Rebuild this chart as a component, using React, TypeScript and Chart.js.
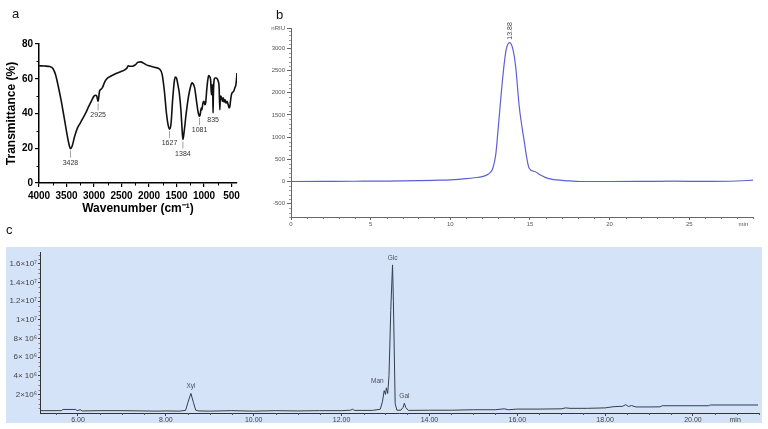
import React, { useEffect, useRef } from 'react';
import { Chart, registerables } from 'chart.js';

Chart.register(...registerables);

const FONT = '"Liberation Sans", Arial, sans-serif';

// ---------- Panel a : FT-IR spectrum ----------
const irWavenumber = [4000, 3900, 3800, 3750, 3700, 3650, 3600, 3550, 3500, 3460, 3428, 3400, 3350, 3300, 3250, 3200, 3150, 3100, 3050, 3000, 2970, 2950, 2935, 2925, 2915, 2900, 2870, 2850, 2800, 2750, 2700, 2600, 2500, 2450, 2400, 2380, 2350, 2300, 2250, 2200, 2150, 2100, 2050, 2000, 1900, 1800, 1760, 1720, 1680, 1650, 1627, 1600, 1570, 1540, 1520, 1500, 1470, 1450, 1420, 1400, 1384, 1360, 1330, 1300, 1270, 1240, 1220, 1200, 1170, 1140, 1110, 1090, 1081, 1070, 1050, 1040, 1020, 1000, 985, 970, 950, 930, 915, 900, 880, 865, 850, 840, 835, 830, 815, 800, 780, 760, 740, 725, 712, 705, 695, 680, 665, 650, 635, 620, 600, 580, 560, 545, 530, 515, 500, 480, 460, 440, 420, 410, 400];
const irTransmittance = [67.5, 67.3, 67, 66, 62.4, 55.7, 48, 39, 29.7, 23, 19.8, 21, 27, 31.7, 34.5, 37.4, 40.3, 43.8, 47, 50, 50.5, 50, 48, 47, 49, 52.8, 54, 54.7, 58.5, 60.5, 61.4, 63, 64.3, 65, 66.2, 67.5, 67.2, 67.2, 68, 69.5, 69.7, 69, 68, 67.5, 66.6, 65.3, 62.4, 52.8, 39.3, 33, 31, 34, 48, 58.5, 61, 60.4, 55.7, 52, 42, 31.7, 25, 29.8, 38.4, 46, 51.8, 56, 57.6, 57.2, 54.7, 48, 41.3, 38.8, 38.5, 39.3, 43.2, 42, 46, 47, 45, 46, 53.7, 59.5, 61.8, 61.4, 59.5, 50.8, 56.6, 50, 40.3, 50, 59.5, 60.4, 60.4, 59.9, 58.5, 55, 42.2, 48, 50, 49, 47, 49, 46.5, 48, 46, 47, 45, 43.2, 44, 48, 51, 52.2, 52.8, 54.7, 56.6, 59.5, 63.3];
const irPeakLabels = [3428, 2925, 1627, 1384, 1081, 835];
const irXTicks = [4000, 3500, 3000, 2500, 2000, 1500, 1000, 500];
const irYTicks = [0, 20, 40, 60, 80];

// ---------- Panel b : HPGPC chromatogram ----------
const hplcTime = [0, 2, 4, 6, 8, 9, 10, 10.5, 11, 11.5, 12, 12.3, 12.5, 12.67, 12.85, 12.98, 13.2, 13.35, 13.5, 13.62, 13.72, 13.82, 13.95, 14.1, 14.33, 14.6, 14.95, 15.3, 15.6, 15.92, 16.34, 17.4, 18.2, 20, 22, 24, 26, 28, 29];
const hplcSignal = [0, 3, 6, 10, 20, 28, 38, 48, 65, 85, 110, 150, 200, 300, 600, 1090, 2000, 2550, 2960, 3100, 3130, 3100, 2950, 2600, 1680, 1000, 300, 225, 160, 98, 52, 15, 0, 0, 3, 8, 2, 12, 30];
const hplcPeakLabel = '13.88';
const hplcXTicks = [0, 5, 10, 15, 20, 25];
const hplcYTicks = [-500, 0, 500, 1000, 1500, 2000, 2500, 3000];
const hplcUnitY = 'nRIU';
const hplcUnitX = 'min';

// ---------- Panel c : GC monosaccharide composition (signal in millions) ----------
const gcTime = [5.14, 5.5, 5.62, 5.66, 5.95, 5.98, 6.05, 6.1, 6.5, 7.0, 7.5, 7.8, 8.0, 8.3, 8.45, 8.5, 8.57, 8.63, 8.68, 8.75, 9.0, 9.5, 10.0, 10.5, 11.0, 11.5, 12.0, 12.2, 12.25, 12.3, 12.7, 12.88, 12.93, 12.97, 13.0, 13.02, 13.05, 13.08, 13.12, 13.16, 13.18, 13.22, 13.26, 13.35, 13.4, 13.43, 13.46, 13.52, 14.0, 14.5, 15.0, 15.5, 15.7, 15.8, 16.0, 16.5, 17.0, 17.1, 17.2, 17.6, 18.0, 18.2, 18.4, 18.47, 18.53, 18.6, 18.7, 19.0, 19.25, 19.3, 20.0, 20.35, 20.4, 21.48];
const gcSignal = [0.25, 0.25, 0.25, 0.38, 0.38, 0.25, 0.35, 0.22, 0.25, 0.25, 0.22, 0.2, 0.22, 0.2, 0.28, 1.1, 2.1, 1.1, 0.3, 0.22, 0.2, 0.25, 0.2, 0.25, 0.22, 0.25, 0.25, 0.3, 0.4, 0.28, 0.28, 0.4, 1.2, 2.4, 2.0, 2.7, 2.1, 4, 11, 15.9, 12, 1.0, 0.3, 0.3, 0.6, 1.05, 0.6, 0.28, 0.3, 0.3, 0.35, 0.35, 0.45, 0.35, 0.42, 0.42, 0.45, 0.55, 0.5, 0.5, 0.55, 0.68, 0.72, 0.9, 0.7, 0.8, 0.65, 0.65, 0.66, 0.78, 0.78, 0.78, 0.86, 0.86];
const gcPeakNames = ['Xyl', 'Man', 'Glc', 'Gal'];
const gcPeakTimes = [8.57, 13.02, 13.16, 13.43];
const gcXTicks = [6, 8, 10, 12, 14, 16, 18, 20];
const gcYTicks = [2, 4, 6, 8, 10, 12, 14, 16];
const gcYTickLabels = ['2×10⁶', '4× 10⁶', '6× 10⁶', '8× 10⁶', '1×10⁷', '1.2×10⁷', '1.4×10⁷', '1.6×10⁷'];
const gcUnitX = 'min';

// style-only constants
const HPLC_MIN_POS = 28.4;
const GC_MIN_POS = 20.96;
const GC_LABEL_DX = [0, -9, 0, 0];

function range(a: number, b: number, step: number) {
  const out: number[] = [];
  for (let v = a; v <= b + 1e-9; v += step) out.push(Math.round(v * 1000) / 1000);
  return out;
}

function minorTicks(specs: { axis: string; values: number[]; len: number; color: string; width: number }[]) {
  return {
    id: 'minorTicks',
    afterDraw(chart: any) {
      const ctx = chart.ctx;
      const area = chart.chartArea;
      specs.forEach((m) => {
        const scale = chart.scales[m.axis];
        ctx.save();
        ctx.strokeStyle = m.color;
        ctx.lineWidth = m.width;
        ctx.beginPath();
        m.values.forEach((v) => {
          const p = Math.round(scale.getPixelForValue(v)) + 0.5;
          if (m.axis === 'x') {
            ctx.moveTo(p, area.bottom);
            ctx.lineTo(p, area.bottom + m.len);
          } else {
            ctx.moveTo(area.left, p);
            ctx.lineTo(area.left - m.len, p);
          }
        });
        ctx.stroke();
        ctx.restore();
      });
    },
  };
}

function configA(): any {
  return {
    type: 'line',
    data: {
      datasets: [{
        data: irWavenumber.map((x, i) => ({ x, y: irTransmittance[i] })),
        borderColor: '#111', borderWidth: 1.6, pointRadius: 0, fill: false,
        cubicInterpolationMode: 'monotone',
      }],
    },
    options: {
      responsive: false, animation: false, devicePixelRatio: 1,
      layout: { padding: { top: 44, right: 8, left: 0, bottom: 0 } },
      plugins: { legend: { display: false }, tooltip: { enabled: false } },
      scales: {
        x: {
          type: 'linear', reverse: true, min: 400, max: 4000,
          afterBuildTicks: (s: any) => { s.ticks = irXTicks.map((v) => ({ value: v })); },
          afterFit: (s: any) => { s.height = 42; },
          ticks: {
            font: { family: FONT, size: 10, weight: 'bold' }, color: '#000', padding: 3, maxRotation: 0, autoSkip: false,
            callback: (v: number) => String(v),
          },
          grid: { drawOnChartArea: false, tickLength: 4, color: '#000', lineWidth: 1.2 },
          border: { color: '#000', width: 1.5 },
          title: { display: true, text: 'Wavenumber (cm⁻¹)', font: { family: FONT, size: 12, weight: 'bold' }, color: '#000', padding: { top: 0, bottom: 9 } },
        },
        y: {
          type: 'linear', min: 0, max: 80,
          afterBuildTicks: (s: any) => { s.ticks = irYTicks.map((v) => ({ value: v })); },
          afterFit: (s: any) => { s.width = 39; },
          ticks: {
            font: { family: FONT, size: 10, weight: 'bold' }, color: '#000', padding: 2, autoSkip: false,
            callback: (v: number) => String(v),
          },
          grid: { drawOnChartArea: false, tickLength: 4, color: '#000', lineWidth: 1.2 },
          border: { color: '#000', width: 1.5 },
          title: { display: true, text: 'Transmittance (%)', font: { family: FONT, size: 12, weight: 'bold' }, color: '#000', padding: { top: 4, bottom: 0 } },
        },
      },
    },
    plugins: [
      minorTicks([
        { axis: 'x', values: range(750, 3750, 500), len: 2.5, color: '#000', width: 1 },
        { axis: 'y', values: [10, 30, 50, 70], len: 2.5, color: '#000', width: 1 },
      ]),
      {
        id: 'irPeaks',
        afterDraw(chart: any) {
          const ctx = chart.ctx;
          const xs = chart.scales.x, ys = chart.scales.y;
          ctx.save();
          ctx.font = `7px ${FONT}`;
          ctx.fillStyle = '#333';
          ctx.strokeStyle = '#888';
          ctx.lineWidth = 0.8;
          ctx.textAlign = 'center';
          ctx.textBaseline = 'middle';
          irPeakLabels.forEach((w) => {
            const i = irWavenumber.indexOf(w);
            const px = xs.getPixelForValue(w);
            const py = ys.getPixelForValue(irTransmittance[i]);
            const gap = w === 835 ? 7 : 14;
            if (gap > 8) {
              ctx.beginPath();
              ctx.moveTo(px, py + 2);
              ctx.lineTo(px, py + gap - 5);
              ctx.stroke();
            }
            ctx.fillText(String(w), px, py + gap);
          });
          ctx.restore();
        },
      },
    ],
  };
}

function configB(): any {
  return {
    type: 'line',
    data: {
      datasets: [{
        data: hplcTime.map((x, i) => ({ x, y: hplcSignal[i] })),
        borderColor: '#5f5fd4', borderWidth: 1.2, pointRadius: 0, fill: false,
        cubicInterpolationMode: 'monotone',
      }],
    },
    options: {
      responsive: false, animation: false, devicePixelRatio: 1,
      layout: { padding: { top: 28.5, right: 15, left: 0, bottom: 0 } },
      plugins: { legend: { display: false }, tooltip: { enabled: false } },
      scales: {
        x: {
          type: 'linear', min: 0, max: 29,
          afterBuildTicks: (s: any) => { s.ticks = [...hplcXTicks, HPLC_MIN_POS].map((v) => ({ value: v })); },
          afterFit: (s: any) => { s.height = 15; },
          ticks: {
            font: { family: FONT, size: 6 }, color: '#555', padding: 1, maxRotation: 0, autoSkip: false,
            callback: (v: number) => (v === HPLC_MIN_POS ? hplcUnitX : String(v)),
          },
          grid: {
            drawOnChartArea: false, tickLength: 3, lineWidth: 1,
            tickColor: (c: any) => (c.tick && c.tick.value === HPLC_MIN_POS ? 'rgba(0,0,0,0)' : '#666'),
          },
          border: { color: '#666', width: 1 },
        },
        y: {
          type: 'linear', min: -800, max: 3450,
          afterBuildTicks: (s: any) => { s.ticks = [...hplcYTicks, 3450].map((v) => ({ value: v })); },
          afterFit: (s: any) => { s.width = 31; },
          ticks: {
            font: { family: FONT, size: 6 }, color: '#555', padding: 2, autoSkip: false,
            callback: (v: number) => (v === 3450 ? hplcUnitY : String(v)),
          },
          grid: { drawOnChartArea: false, tickLength: 4, color: '#666', lineWidth: 1 },
          border: { color: '#666', width: 1 },
        },
      },
    },
    plugins: [
      minorTicks([
        { axis: 'x', values: range(1, 29, 1).filter((v) => v % 5 !== 0), len: 2, color: '#777', width: 1 },
        { axis: 'y', values: range(-800, 3400, 100).filter((v) => v % 500 !== 0), len: 2, color: '#888', width: 0.8 },
      ]),
      {
        id: 'hplcPeak',
        afterDraw(chart: any) {
          const ctx = chart.ctx;
          const xs = chart.scales.x, ys = chart.scales.y;
          const i = hplcSignal.indexOf(Math.max(...hplcSignal));
          const px = xs.getPixelForValue(hplcTime[i]);
          const py = ys.getPixelForValue(hplcSignal[i]);
          ctx.save();
          ctx.translate(px, py - 3);
          ctx.rotate(-Math.PI / 2);
          ctx.font = `7px ${FONT}`;
          ctx.fillStyle = '#444';
          ctx.textAlign = 'left';
          ctx.textBaseline = 'middle';
          ctx.fillText(hplcPeakLabel, 0, 0);
          ctx.restore();
        },
      },
    ],
  };
}

function configC(): any {
  return {
    type: 'line',
    data: {
      datasets: [{
        data: gcTime.map((x, i) => ({ x, y: gcSignal[i] })),
        borderColor: '#353f4c', borderWidth: 1, pointRadius: 0, fill: false, tension: 0,
      }],
    },
    options: {
      responsive: false, animation: false, devicePixelRatio: 1,
      layout: { padding: { top: 1, right: 4, left: 0, bottom: 0 } },
      plugins: { legend: { display: false }, tooltip: { enabled: false } },
      scales: {
        x: {
          type: 'linear', min: 5.135, max: 21.48,
          afterBuildTicks: (s: any) => { s.ticks = [...gcXTicks, GC_MIN_POS].map((v) => ({ value: v })); },
          afterFit: (s: any) => { s.height = 10; },
          ticks: {
            font: { family: FONT, size: 7 }, color: '#444', padding: 0, maxRotation: 0, autoSkip: false,
            callback: (v: number) => (v === GC_MIN_POS ? gcUnitX : v.toFixed(2)),
          },
          grid: {
            drawOnChartArea: false, tickLength: 3, lineWidth: 1,
            tickColor: (c: any) => (c.tick && c.tick.value === GC_MIN_POS ? 'rgba(0,0,0,0)' : '#444'),
          },
          border: { color: '#333', width: 1 },
        },
        y: {
          type: 'linear', min: 0, max: 17.2,
          afterBuildTicks: (s: any) => { s.ticks = gcYTicks.map((v) => ({ value: v })); },
          afterFit: (s: any) => { s.width = 34; },
          ticks: {
            font: { family: FONT, size: 8 }, color: '#444', padding: 1, autoSkip: false,
            callback: (v: number) => gcYTickLabels[gcYTicks.indexOf(v)],
          },
          grid: { drawOnChartArea: false, tickLength: 2, color: '#444', lineWidth: 1 },
          border: { color: '#333', width: 1 },
        },
      },
    },
    plugins: [
      minorTicks([
        { axis: 'x', values: range(5.5, 21.5, 0.5).filter((v) => !(Number.isInteger(v) && v % 2 === 0)), len: 2, color: '#555', width: 1 },
        { axis: 'y', values: range(0.5, 17, 0.5).filter((v) => !(Number.isInteger(v) && v % 2 === 0)), len: 1.5, color: '#666', width: 0.8 },
      ]),
      {
        id: 'gcPeaks',
        afterDraw(chart: any) {
          const ctx = chart.ctx;
          const xs = chart.scales.x, ys = chart.scales.y;
          ctx.save();
          ctx.font = `6.5px ${FONT}`;
          ctx.fillStyle = '#4a5260';
          ctx.textAlign = 'center';
          ctx.textBaseline = 'middle';
          gcPeakNames.forEach((name, k) => {
            const t = gcPeakTimes[k];
            let top = 0;
            gcTime.forEach((tt, i) => { if (Math.abs(tt - t) <= 0.03 && gcSignal[i] > top) top = gcSignal[i]; });
            const px = xs.getPixelForValue(t) + GC_LABEL_DX[k];
            const py = ys.getPixelForValue(top);
            ctx.fillText(name, px, py - 7);
          });
          ctx.restore();
        },
      },
    ],
  };
}

function ChartBox(props: { make: () => any; left: number; top: number; width: number; height: number; bg?: string }) {
  const ref = useRef<HTMLCanvasElement | null>(null);
  useEffect(() => {
    if (!ref.current) return;
    const chart = new Chart(ref.current, props.make());
    return () => chart.destroy();
  }, []);
  return (
    <div style={{ position: 'absolute', left: props.left, top: props.top, width: props.width, height: props.height, background: props.bg || 'transparent' }}>
      <canvas ref={ref} width={props.width} height={props.height} style={{ display: 'block', width: props.width, height: props.height }} />
    </div>
  );
}

const letterStyle: React.CSSProperties = {
  position: 'absolute', fontFamily: FONT, fontSize: 13, lineHeight: '13px', color: '#111',
};

export default function App() {
  return (
    <div style={{ position: 'fixed', left: 0, top: 0, width: 768, height: 429, background: '#fff', overflow: 'hidden' }}>
      <ChartBox make={configA} left={0} top={0} width={245} height={225} />
      <ChartBox make={configB} left={260} top={0} width={508} height={232} />
      <ChartBox make={configC} left={6} top={247} width={756} height={176} bg="#d4e3f8" />
      <div style={{ ...letterStyle, left: 12, top: 7 }}>a</div>
      <div style={{ ...letterStyle, left: 276, top: 8 }}>b</div>
      <div style={{ ...letterStyle, left: 6, top: 223 }}>c</div>
    </div>
  );
}
